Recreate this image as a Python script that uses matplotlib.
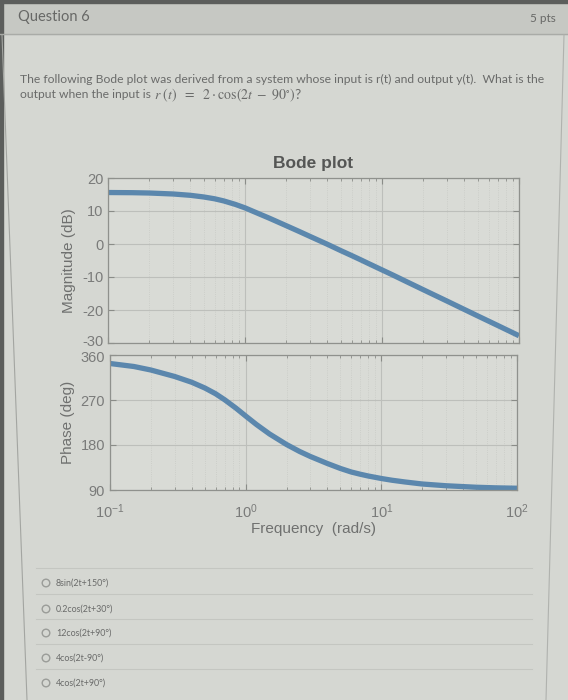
import matplotlib
matplotlib.use("Agg")
import matplotlib.pyplot as plt
from matplotlib.patches import Rectangle, Circle
from matplotlib.ticker import LogLocator, NullFormatter
from matplotlib.transforms import ScaledTranslation

plt.rcParams['axes.unicode_minus'] = False
plt.rcParams['mathtext.fontset'] = 'stix'

# ---- data ----
freq = [0.1, 0.15, 0.2, 0.3, 0.4, 0.5, 0.6, 0.7, 0.85, 1, 1.2, 1.5, 2, 2.5, 3, 4, 5, 6, 7, 8,
        10, 12, 15, 20, 30, 50, 70, 100]
mag_db = [15.6, 15.55, 15.45, 15.15, 14.75, 14.25, 13.7, 13.05, 12.0, 10.95, 9.55, 7.85, 5.55,
          3.75, 2.25, -0.1, -2.0, -3.5, -4.8, -5.95, -7.85, -9.4, -11.35, -13.85, -17.35,
          -21.8, -24.7, -27.8]
phase_deg = [343, 337, 330, 317, 305.5, 294, 282.5, 270.5, 253.5, 238, 221, 202, 181, 167, 157,
             143, 133, 126, 121.5, 118, 113, 109.5, 106, 102, 98.5, 95.5, 94.3, 93.5]
mag_ticks = [-30, -20, -10, 0, 10, 20]
phase_ticks = [90, 180, 270, 360]
options = ["8sin(2t+150°)", "0.2cos(2t+30°)", "12cos(2t+90°)", "4cos(2t-90°)", "4cos(2t+90°)"]

W, H = 568, 700
bg = '#d5d7d2'
fig = plt.figure(figsize=(W / 100, H / 100), dpi=100, facecolor=bg)

# page decoration axes in pixel coordinates
deco = fig.add_axes([0, 0, 1, 1])
deco.set_xlim(0, W)
deco.set_ylim(H, 0)
deco.axis('off')
deco.set_zorder(0)
deco.add_patch(Rectangle((0, 0), W, 34, color='#c6c8c3', zorder=1))
deco.add_patch(Rectangle((0, 0), W, 3, color='#5c5e5c', zorder=2))
deco.add_patch(Rectangle((0, 0), 2.5, H, color='#5c5e5c', zorder=2))
deco.plot([0, W], [34, 34], color='#a9aba7', lw=1, zorder=2)
deco.plot([2, 27], [35, 700], color='#a3a5a1', lw=0.8, zorder=2)
deco.plot([564, 546], [35, 700], color='#b0b2ae', lw=0.8, zorder=2)

txt_col = '#6a6b6a'
deco.text(18, 17, "Question 6", fontsize=10.5, family='Lato', color='#676866',
          va='center', ha='left', zorder=3)
deco.text(556, 18, "5 pts", fontsize=8.5, family='Lato', color='#676866',
          va='center', ha='right', zorder=3)
deco.text(20, 79, "The following Bode plot was derived from a system whose input is r(t) and output y(t).  What is the",
          fontsize=8.7, family='Lato', color=txt_col, va='center', ha='left', zorder=3)
t2 = deco.text(20, 95, "output when the input is ",
               fontsize=8.7, family='Lato', color=txt_col, va='center', ha='left', zorder=3)
deco.annotate(r"$r\ (t)\ \ =\ \ 2\cdot\cos(2t\ -\ 90^{\circ})$?", xy=(1, 0.5), xycoords=t2,
              fontsize=10, family='Lato', color=txt_col, va='center', ha='left', zorder=3)

# answer options
opt_y = [583, 609, 633, 658, 683]
sep_y = [568, 594, 619, 644, 669]
for sy in sep_y:
    deco.plot([36, 532], [sy, sy], color='#c4c6c1', lw=0.8, zorder=2)
for oy, label in zip(opt_y, options):
    deco.add_patch(Circle((46, oy), 3.8, fill=False, ec='#9a9c98', lw=1.0, zorder=3))
    deco.text(56, oy, label, fontsize=6.4, family='Lato', color=txt_col,
              va='center', ha='left', zorder=3)

# ---- Bode plot ----
line_col = '#5b87ad'
tick_col = '#7a7b7a'
font = 'Liberation Sans'


def style(ax):
    ax.set_facecolor('#d9dbd6')
    ax.set_xscale('log')
    ax.set_xlim(0.1, 100)
    ax.grid(True, which='major', color='#bdbfbb', lw=0.8)
    ax.grid(True, which='minor', color='#c8cac5', lw=0.6, ls=':')
    ax.xaxis.set_minor_locator(LogLocator(base=10, subs=range(2, 10)))
    ax.xaxis.set_minor_formatter(NullFormatter())
    ax.tick_params(which='both', direction='in', colors='#8a8c88', labelcolor=tick_col,
                   labelsize=10.5, top=True, right=True)
    ax.tick_params(which='major', length=4)
    ax.tick_params(which='minor', length=2)
    ax.tick_params(axis='x', pad=9)
    for s in ax.spines.values():
        s.set_color('#8f918d')
        s.set_linewidth(0.9)
    for lab in ax.get_yticklabels() + ax.get_xticklabels():
        lab.set_family(font)


ax1 = fig.add_axes([108 / W, 1 - 343 / H, 411 / W, 165 / H])
ax1.plot(freq, mag_db, color=line_col, lw=3.8, solid_capstyle='butt', solid_joinstyle='round')
ax1.set_ylim(-30, 20)
ax1.set_yticks(mag_ticks)
ax1.set_ylabel("Magnitude (dB)", fontsize=11, color='#6f706f', family=font, labelpad=4)
ax1.set_title("Bode plot", fontsize=12.5, fontweight='bold', color='#555655', family=font, pad=7)
ax1.tick_params(axis='x', labelbottom=False)
style(ax1)

ax2 = fig.add_axes([110 / W, 1 - 490 / H, 407 / W, 135 / H])
ax2.plot(freq, phase_deg, color=line_col, lw=3.8, solid_capstyle='butt', solid_joinstyle='round')
ax2.set_ylim(90, 360)
ax2.set_yticks(phase_ticks)
ax2.set_ylabel("Phase (deg)", fontsize=11, color='#6f706f', family=font, labelpad=4)
ax2.set_xlabel("Frequency  (rad/s)", fontsize=11, color='#6f706f', family=font, labelpad=1)
style(ax2)

# nudge the touching end labels apart slightly (as in the reference they nearly meet)
fig.canvas.draw()
ax1.get_yticklabels()[0].set_transform(ax1.get_yticklabels()[0].get_transform()
                                       + ScaledTranslation(0, 2 / 100, fig.dpi_scale_trans))
ax2.get_yticklabels()[-1].set_transform(ax2.get_yticklabels()[-1].get_transform()
                                        + ScaledTranslation(0, -2 / 100, fig.dpi_scale_trans))

fig.savefig("out.png", dpi=100, facecolor=bg)
